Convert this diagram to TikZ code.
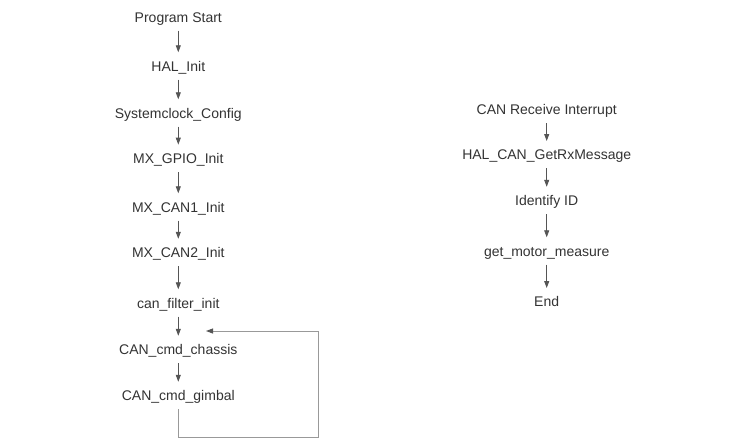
\documentclass[tikz,border=0pt]{standalone}
\usepackage{fontspec}
\setmainfont{Liberation Sans}
\usetikzlibrary{arrows.meta}
\definecolor{txt}{HTML}{333333}
\definecolor{arr}{HTML}{555555}
\definecolor{loopc}{HTML}{999999}
\begin{document}
\begin{tikzpicture}[x=1pt,y=-1pt,
  lbl/.style={text=txt,font=\fontsize{14}{16}\selectfont,text height=10pt,text depth=0pt,inner xsep=2pt,inner ysep=8.5pt},
  flow/.style={draw=arr,line width=0.8pt,-{Triangle[length=7pt,width=5pt]}},
  back/.style={draw=loopc,line width=0.9pt,-{Triangle[length=7pt,width=5pt,color=arr]}}]
\useasboundingbox[fill=white] (0,0) rectangle (740,447);
% left column
\node[lbl] (ps) at (178.3,17) {Program Start};
\node[lbl] (hal) at (178.3,66) {HAL\_Init};
\node[lbl] (sc) at (178.3,113) {Systemclock\_Config};
\node[lbl] (gpio) at (178.3,158.3) {MX\_GPIO\_Init};
\node[lbl] (can1) at (178.3,207) {MX\_CAN1\_Init};
\node[lbl] (can2) at (178.3,252.5) {MX\_CAN2\_Init};
\node[lbl] (cfi) at (178.3,303) {can\_filter\_init};
\node[lbl] (chs) at (178.3,349.5) {CAN\_cmd\_chassis};
\node[lbl] (gmb) at (178.3,395.5) {CAN\_cmd\_gimbal};
\draw[flow] (ps) -- (hal);
\draw[flow] (hal) -- (sc);
\draw[flow] (sc) -- (gpio);
\draw[flow] (gpio) -- (can1);
\draw[flow] (can1) -- (can2);
\draw[flow] (can2) -- (cfi);
\draw[flow] (cfi) -- (chs);
\draw[flow] (chs) -- (gmb);
\coordinate (l1) at (318,437);
\coordinate (l2) at (318,331);
\coordinate (le) at (206,331);
\draw[back] (gmb.south) |- (l1) -- (l2) -- (le);
% right column
\node[lbl] (cri) at (546.7,109.5) {CAN Receive Interrupt};
\node[lbl] (rx) at (546.7,154.7) {HAL\_CAN\_GetRxMessage};
\node[lbl] (id) at (546.7,200.5) {Identify ID};
\node[lbl] (gmm) at (546.7,251) {get\_motor\_measure};
\node[lbl] (end) at (546.7,301.7) {End};
\draw[flow] (cri) -- (rx);
\draw[flow] (rx) -- (id);
\draw[flow] (id) -- (gmm);
\draw[flow] (gmm) -- (end);
\end{tikzpicture}
\end{document}
